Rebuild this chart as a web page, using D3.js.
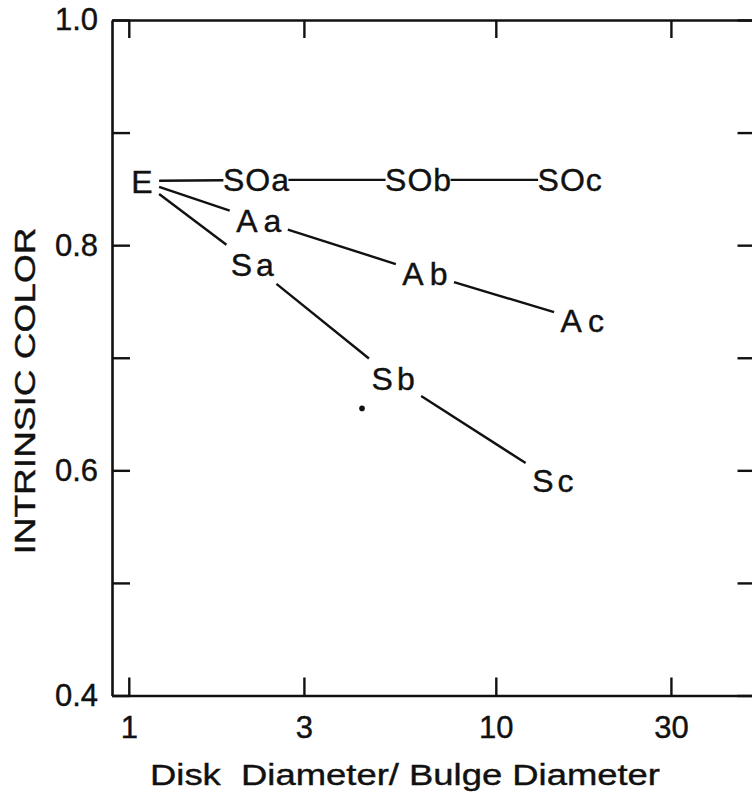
<!DOCTYPE html>
<html><head><meta charset="utf-8">
<script src="https://cdn.jsdelivr.net/npm/d3@7"></script>
<style>html,body{margin:0;padding:0;background:#fff;} svg{display:block;}</style>
</head><body>
<svg id="chart" width="752" height="796"></svg>
<script>
// ---- data ----
const xTickValues = [1, 3, 10, 30];
const xTickLabels = ["1", "3", "10", "30"];
const yTickValues = [0.4, 0.5, 0.6, 0.7, 0.8, 0.9, 1.0];
const yTickLabels = ["0.4", "", "0.6", "", "0.8", "", "1.0"];
const typeNames   = ["E", "SOa", "SOb", "SOc", "Aa", "Ab", "Ac", "Sa", "Sb", "Sc"];
const ratioValues = [1.086, 2.22, 6.14, 15.9, 2.26, 6.41, 17.2, 2.17, 5.25, 14.3];
const colorValues = [0.857, 0.858, 0.858, 0.858, 0.822, 0.775, 0.733, 0.783, 0.682, 0.591];
const sequenceLinks = [["E","SOa"],["SOa","SOb"],["SOb","SOc"],["E","Aa"],["Aa","Ab"],["Ab","Ac"],["E","Sa"],["Sa","Sb"],["Sb","Sc"]];
const strayRatio = [4.32];
const strayColor = [0.655];
const xTitle = "Disk\u00a0\u00a0Diameter/ Bulge Diameter";
const yTitle = "INTRINSIC COLOR";

(function draw() {
  const svg = d3.select("#chart");
  const ink = "#111";
  const font = "'Liberation Sans', Arial, Helvetica, sans-serif";
  const pl = 112, pr = 755.5, pt = 20, pb = 695.5;
  const x = d3.scaleLog().domain([0.9, 51]).range([pl, pr]);
  const y = d3.scaleLinear().domain([0.4, 1.0]).range([pb, pt]);
  const tickLen = 18;

  function styleAxis(g, showText) {
    g.selectAll("path.domain").attr("stroke", ink).attr("stroke-width", 2.6).attr("fill", "none");
    g.selectAll(".tick line").attr("stroke", ink).attr("stroke-width", 2.4);
    g.selectAll(".tick text").attr("fill", ink).attr("font-family", font).attr("font-size", 31)
      .attr("stroke", ink).attr("stroke-width", 0.4);
    if (!showText) g.selectAll(".tick text").remove();
  }

  svg.append("g").attr("transform", `translate(0,${pb})`)
    .call(d3.axisBottom(x).tickValues(xTickValues).tickFormat((d,i)=>xTickLabels[i])
          .tickSize(-tickLen).tickSizeOuter(0).tickPadding(20.5))
    .call(g => styleAxis(g, true));
  svg.append("g").attr("transform", `translate(0,${pt})`)
    .call(d3.axisTop(x).tickValues(xTickValues).tickFormat(()=> "").tickSize(-tickLen).tickSizeOuter(0))
    .call(g => styleAxis(g, false));
  svg.append("g").attr("transform", `translate(${pl},0)`)
    .call(d3.axisLeft(y).tickValues(yTickValues).tickFormat((d,i)=>yTickLabels[i])
          .tickSize(-tickLen).tickSizeOuter(0).tickPadding(14))
    .call(g => styleAxis(g, true));
  svg.append("g").attr("transform", `translate(${pr},0)`)
    .call(d3.axisRight(y).tickValues(yTickValues).tickFormat(()=> "").tickSize(-tickLen).tickSizeOuter(0))
    .call(g => styleAxis(g, false));

  // titles
  svg.append("text")
    .attr("transform", "translate(24,391) rotate(-90)")
    .attr("text-anchor", "middle").attr("dy", "0.36em")
    .attr("font-family", font).attr("font-size", 30).attr("fill", ink)
    .attr("stroke", ink).attr("stroke-width", 0.4)
    .attr("textLength", 327).attr("lengthAdjust", "spacingAndGlyphs")
    .text(yTitle);
  svg.append("text")
    .attr("x", 405).attr("y", 785)
    .attr("text-anchor", "middle")
    .attr("font-family", font).attr("font-size", 30).attr("fill", ink)
    .attr("stroke", ink).attr("stroke-width", 0.4)
    .attr("textLength", 510).attr("lengthAdjust", "spacingAndGlyphs")
    .text(xTitle);

  // ---- type labels and connecting lines ----
  const fs = 32;
  const spacing = n => n === "E" ? 0 : n.startsWith("SO") ? 1 : n.startsWith("A") ? 6 : 4;
  const gap = n => n.startsWith("SO") ? 1 : 8;

  const nodes = typeNames.map((name, i) => ({ name, cx: x(ratioValues[i]), cy: y(colorValues[i]) }));
  const byName = Object.fromEntries(nodes.map(n => [n.name, n]));

  const labelG = svg.append("g");
  nodes.forEach(n => {
    const ls = spacing(n.name);
    const t = labelG.append("text")
      .attr("x", n.cx + ls / 2).attr("y", n.cy).attr("dy", (0.36 * fs) + "px")
      .attr("text-anchor", "middle")
      .attr("font-family", font).attr("font-size", fs).attr("fill", ink)
      .attr("stroke", ink).attr("stroke-width", 0.4)
      .attr("letter-spacing", ls)
      .text(n.name);
    const bb = t.node().getBBox();
    n.hw = (bb.width - ls) / 2 - 1.5;
    n.hh = 0.36 * fs;
  });

  const linkG = svg.append("g");
  sequenceLinks.forEach(([a, b]) => {
    const A = byName[a], B = byName[b];
    const dx = B.cx - A.cx, dy = B.cy - A.cy;
    const trim = N => Math.min((N.hw + gap(N.name)) / Math.abs(dx || 1e-9), (N.hh + gap(N.name)) / Math.abs(dy || 1e-9));
    const ta = trim(A), tb = trim(B);
    linkG.append("line")
      .attr("x1", A.cx + ta * dx).attr("y1", A.cy + ta * dy)
      .attr("x2", B.cx - tb * dx).attr("y2", B.cy - tb * dy)
      .attr("stroke", ink).attr("stroke-width", 2.4);
  });

  // stray ink dot visible in the figure
  svg.append("g").selectAll("circle").data(strayRatio).join("circle")
    .attr("cx", d => x(d)).attr("cy", (d, i) => y(strayColor[i])).attr("r", 2.8).attr("fill", ink);
})();
</script>
</body></html>
